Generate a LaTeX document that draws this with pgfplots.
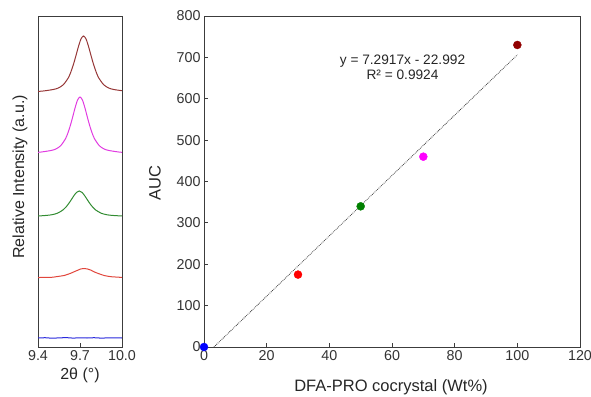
\documentclass[border=0pt]{standalone}
\usepackage{fontspec}
\setmainfont{Liberation Sans}
\usepackage{pgfplots}
\pgfplotsset{compat=1.18}
\definecolor{cBrown}{RGB}{150,55,55}
\definecolor{cMag}{RGB}{225,60,225}
\definecolor{cGreen}{RGB}{50,140,50}
\definecolor{cRed}{RGB}{225,70,60}
\definecolor{cBlue}{RGB}{40,40,220}
\definecolor{pMaroon}{RGB}{145,0,0}
\definecolor{pMag}{RGB}{255,0,255}
\definecolor{pGreen}{RGB}{0,128,0}
\definecolor{pRed}{RGB}{255,0,0}
\definecolor{pBlue}{RGB}{0,0,255}
\definecolor{axc}{RGB}{60,60,60}
\begin{document}
\begin{tikzpicture}[x=1pt,y=1pt]
\useasboundingbox (0,0) rectangle (591,396);
\pgfplotsset{
  every tick label/.append style={font=\fontsize{14.3}{16}\selectfont, text=black!80},
  /pgf/number format/assume math mode=true,
}
% ---------- left panel ----------
\begin{axis}[
  at={(38pt,49pt)}, anchor=south west, scale only axis,
  width=84pt, height=331pt,
  xmin=9.4, xmax=10.0, ymin=0, ymax=331,
  xtick={9.4,9.7,10.0}, xticklabels={9.4,9.7,10.0},
  ytick=\empty, xtick pos=bottom, tick align=inside,
  major tick length=4pt,
  axis line style={axc, line width=0.8pt},
  tick style={axc, line width=0.8pt},
]
\addplot[cBlue, line width=1pt] coordinates {
(9.40,9.0) (9.45,9.3) (9.50,8.8) (9.55,9.1) (9.60,9.4) (9.65,8.9) (9.70,9.2)
(9.75,9.0) (9.80,9.3) (9.85,8.9) (9.90,9.1) (9.95,9.2) (10.00,9.0)};
\addplot[cRed, line width=1pt, smooth] coordinates {
(9.40,69.4) (9.445,69.7) (9.4925,69.6) (9.54,70.5) (9.5875,71.5) (9.61125,72.6)
(9.635,73.8) (9.65875,75.3) (9.6825,76.7) (9.70625,78.1) (9.73,78.5) (9.75375,78.0)
(9.7775,76.9) (9.80125,75.1) (9.825,73.8) (9.84875,72.6) (9.8725,71.5) (9.92,70.3)
(9.9675,69.9) (10.00,69.5)};
\addplot[cGreen, line width=1pt, smooth] coordinates {
(9.40,131.0) (9.461,131.6) (9.50,132.3) (9.539,133.8) (9.578,137.0) (9.5975,139.6)
(9.617,143.0) (9.6365,147.0) (9.656,151.2) (9.6755,154.6) (9.695,156.0)
(9.7145,154.6) (9.734,151.2) (9.7535,147.0) (9.773,143.0) (9.7925,139.6)
(9.812,137.0) (9.851,133.8) (9.89,132.3) (9.929,131.6) (10.00,131.0)};
\addplot[cMag, line width=1pt, smooth] coordinates {
(9.40,194.7) (9.424,195.0) (9.493,196.5) (9.5275,198.0) (9.562,201.3) (9.5965,208.3)
(9.61375,214.1) (9.631,221.5) (9.64825,230.3) (9.6655,239.5) (9.68275,247.0) (9.70,250.0)
(9.71725,247.0) (9.7345,239.5) (9.75175,230.3) (9.769,221.5) (9.78625,214.1)
(9.8035,208.3) (9.838,201.3) (9.8725,198.0) (9.907,196.5) (9.976,195.0) (10.00,194.7)};
\addplot[cBrown, line width=1pt, smooth] coordinates {
(9.40,255.6) (9.437,256.0) (9.509,257.5) (9.545,259.0) (9.581,262.3) (9.617,269.3)
(9.635,275.1) (9.653,282.5) (9.671,291.3) (9.689,300.5) (9.707,308.0) (9.725,311.0)
(9.743,308.0) (9.761,300.5) (9.779,291.3) (9.797,282.5) (9.815,275.1)
(9.833,269.3) (9.869,262.3) (9.905,259.0) (9.941,257.5) (10.00,256.3)};
\end{axis}
% ---------- right panel ----------
\begin{axis}[
  at={(204pt,49pt)}, anchor=south west, scale only axis,
  width=376pt, height=331pt,
  xmin=0, xmax=120, ymin=0, ymax=800,
  xtick={0,20,...,120}, ytick={0,100,...,800},
  xtick pos=bottom, ytick pos=left, tick align=inside,
  major tick length=4pt,
  axis line style={axc, line width=0.8pt},
  tick style={axc, line width=0.8pt},
  clip=false,
]
\addplot[black!75, densely dotted, line width=0.8pt] coordinates {(3.153,0) (100,706.18)};
\addplot[only marks, mark=*, mark size=4pt, color=pBlue] coordinates {(0,0)};
\addplot[only marks, mark=*, mark size=4pt, color=pRed] coordinates {(30,175)};
\addplot[only marks, mark=*, mark size=4pt, color=pGreen] coordinates {(50,340)};
\addplot[only marks, mark=*, mark size=4pt, color=pMag] coordinates {(70,460)};
\addplot[only marks, mark=*, mark size=4pt, color=pMaroon] coordinates {(100,730)};
\end{axis}
% ---------- labels ----------
\node[rotate=90, font=\fontsize{16}{19}\selectfont, text=black!85] at (20,219) {Relative Intensity (a.u.)};
\node[font=\fontsize{16}{19}\selectfont, text=black!85] at (80,21) {2θ (°)};
\node[rotate=90, font=\fontsize{16.5}{19}\selectfont, text=black!85] at (155,213) {AUC};
\node[font=\fontsize{16.5}{19}\selectfont, text=black!85] at (391,9) {DFA-PRO cocrystal (Wt\%)};
\node[align=center, font=\fontsize{13.7}{15}\selectfont, text=black!85] at (402.5,328.5) {y = 7.2917x - 22.992\\R² = 0.9924};
\end{tikzpicture}
\end{document}
